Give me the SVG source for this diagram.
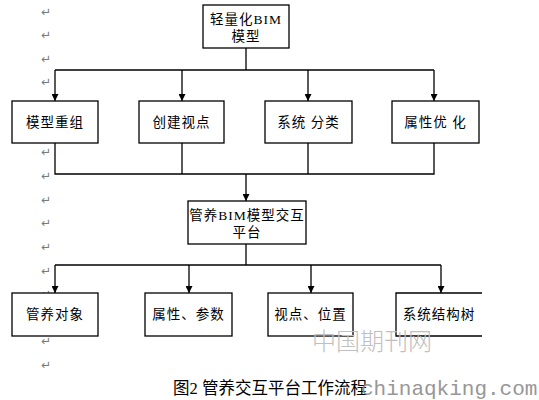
<svg xmlns="http://www.w3.org/2000/svg" width="539" height="400" viewBox="0 0 539 400">
<defs>
<style>
.box{fill:#fff;stroke:#000;stroke-width:1.3}
.lbl{font-family:"Liberation Serif","Noto Sans CJK SC",serif;font-size:13.5px;fill:#000;text-anchor:middle;letter-spacing:1px}
.pm{font-family:"DejaVu Sans",sans-serif;font-size:12px;fill:#7a7a7a;text-anchor:middle}
.ln{fill:none;stroke:#000;stroke-width:1.3}
</style>
<marker id="dn" viewBox="0 0 7 7" refX="3.5" refY="7" markerWidth="7" markerHeight="7" markerUnits="userSpaceOnUse" orient="0">
<path d="M0,0 L7,0 L3.5,7 Z" fill="#000"/>
</marker>
</defs>
<rect width="539" height="400" fill="#fff"/>
<g id="para-marks">
<text class="pm" x="46" y="16">↵</text>
<text class="pm" x="46" y="39">↵</text>
<text class="pm" x="46" y="63">↵</text>
<text class="pm" x="46" y="86">↵</text>
<text class="pm" x="46" y="156">↵</text>
<text class="pm" x="46" y="180">↵</text>
<text class="pm" x="46" y="204">↵</text>
<text class="pm" x="46" y="227">↵</text>
<text class="pm" x="46" y="251">↵</text>
<text class="pm" x="46" y="275">↵</text>
<text class="pm" x="46" y="298">↵</text>
<text class="pm" x="46" y="345">↵</text>
<text class="pm" x="46" y="369">↵</text>
</g>
<g id="connectors">
<path class="ln" d="M246,48 V70"/>
<path class="ln" d="M55,70 H434"/>
<path class="ln" d="M55,70 V101" marker-end="url(#dn)"/>
<path class="ln" d="M182,70 V101" marker-end="url(#dn)"/>
<path class="ln" d="M308,70 V101" marker-end="url(#dn)"/>
<path class="ln" d="M434,70 V101" marker-end="url(#dn)"/>
<path class="ln" d="M55,143 V174 H434 V143"/>
<path class="ln" d="M182,143 V174"/>
<path class="ln" d="M308,143 V174"/>
<path class="ln" d="M246,174 V201" marker-end="url(#dn)"/>
<path class="ln" d="M246,244 V265"/>
<path class="ln" d="M55,265 H441"/>
<path class="ln" d="M55,265 V293" marker-end="url(#dn)"/>
<path class="ln" d="M189,265 V293" marker-end="url(#dn)"/>
<path class="ln" d="M311,265 V293" marker-end="url(#dn)"/>
<path class="ln" d="M441,265 V293" marker-end="url(#dn)"/>
</g>
<g id="n-top">
<rect class="box" x="203" y="5" width="86" height="43"/>
<text class="lbl" x="246" y="24">轻量化BIM</text>
<text class="lbl" x="246" y="41">模型</text>
</g>
<g id="n-remodel">
<rect class="box" x="12" y="101" width="86" height="42"/>
<text class="lbl" x="55" y="127">模型重组</text>
</g>
<g id="n-view">
<rect class="box" x="139" y="101" width="85" height="42"/>
<text class="lbl" x="181.5" y="127">创建视点</text>
</g>
<g id="n-system">
<rect class="box" x="265" y="101" width="87" height="42"/>
<text class="lbl" x="308.5" y="127">系统 分类</text>
</g>
<g id="n-attr">
<rect class="box" x="392" y="101" width="87" height="42"/>
<text class="lbl" x="435.5" y="127">属性优 化</text>
</g>
<g id="n-platform">
<rect class="box" x="188" y="201" width="118" height="43"/>
<text class="lbl" x="247" y="220">管养BIM模型交互</text>
<text class="lbl" x="247" y="237">平台</text>
</g>
<g id="n-object">
<rect class="box" x="12" y="293" width="86" height="43"/>
<text class="lbl" x="55" y="319">管养对象</text>
</g>
<g id="n-param">
<rect class="box" x="145" y="293" width="87" height="43"/>
<text class="lbl" x="188.5" y="319">属性、参数</text>
</g>
<g id="n-pos">
<rect class="box" x="268" y="293" width="85" height="43"/>
<text class="lbl" x="310.5" y="319">视点、位置</text>
</g>
<g id="n-tree">
<path d="M482,293 H396 V336 H482" fill="#fff" stroke="#000" stroke-width="1.3"/>
<text class="lbl" x="439" y="319">系统结构树</text>
</g>
<g id="caption">
<text x="173" y="394" font-family="Liberation Serif,'Noto Sans CJK SC',serif" font-size="16.5" fill="#000">图2 管养交互平台工作流程</text>
</g>
<g id="watermark">
<text x="312" y="350" font-family="'Liberation Serif','Noto Sans CJK SC',serif" font-size="24" font-weight="300" fill="#c0c0c0">中国期刊网</text>
<text x="361" y="395" font-family="'Liberation Mono',monospace" font-size="21" fill="#8c8c8c" opacity="0.9">chinaqking.com</text>
</g>
</svg>
